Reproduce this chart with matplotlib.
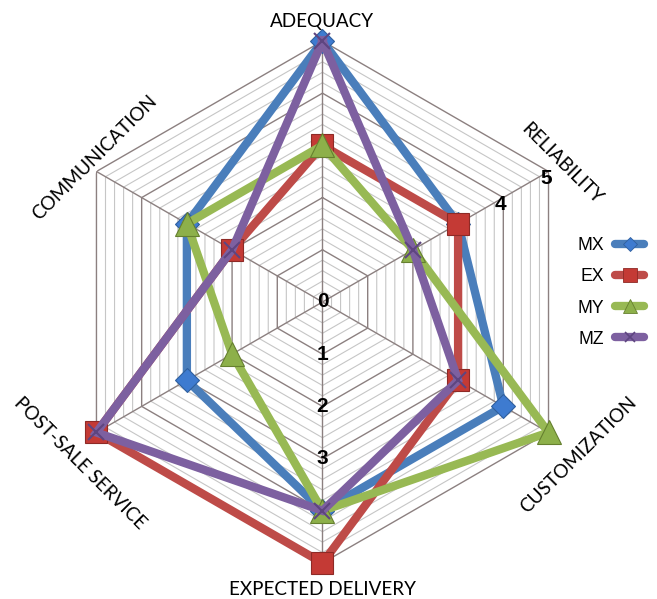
import numpy as np
import matplotlib
matplotlib.use("Agg")
import matplotlib.pyplot as plt

# Categories around the radar, clockwise from the top
categories = ['ADEQUACY', 'RELIABILITY', 'CUSTOMIZATION',
              'EXPECTED DELIVERY', 'POST-SALE SERVICE', 'COMMUNICATION']

# Scores per series (0-5)
mx = [5, 3, 4, 4, 3, 3]
ex = [3, 3, 3, 5, 5, 2]
my = [3, 2, 5, 4, 2, 3]
mz = [5, 2, 3, 4, 5, 2]

series_names = ['MX', 'EX', 'MY', 'MZ']
series_values = [mx, ex, my, mz]

tick_labels = ['0', '1', '2', '3', '4', '5']

# Style
line_colors = ['#4A7EBB', '#BE4B48', '#98B954', '#7D60A0']
face_colors = ['#3E7BD0', '#C43A35', '#8DB04A', '#7D60A0']
edge_colors = ['#2F5F9E', '#8E2A26', '#66802F', '#5E4580']
markers = ['D', 's', '^', 'x']
marker_sizes = [12, 16, 17, 11]
MAJOR = '#8C8080'
MINOR = '#C6C6C6'
RMAX = 5

n = len(categories)
theta = np.arange(n) * 2 * np.pi / n
theta_closed = np.append(theta, theta[0])

fig = plt.figure(figsize=(6.57, 5.99), dpi=100)
ax = fig.add_axes([0.0936, 0.0601, 0.7945, 0.8715], projection='polar')
ax.set_theta_offset(np.pi / 2)
ax.set_theta_direction(-1)
ax.set_ylim(0, RMAX)
ax.grid(False)
ax.set_xticks([])
ax.set_yticks([])
ax.spines['polar'].set_visible(False)
ax.patch.set_visible(False)

# hexagonal grid: minor rings every 0.2, major rings every 1
for r in np.round(np.arange(0.2, RMAX + 0.01, 0.2), 1):
    major = abs(r - round(r)) < 1e-6
    ax.plot(theta_closed, [r] * (n + 1),
            color=MAJOR if major else MINOR,
            lw=1.0 if major else 0.8, zorder=1 if major else 0.5)
for t in theta:
    ax.plot([t, t], [0, RMAX], color=MAJOR, lw=1.0, zorder=1)

# series: line plus markers, drawn in order so later ones sit on top
for i, (name, vals) in enumerate(zip(series_names, series_values)):
    v = np.append(vals, vals[0])
    ax.plot(theta_closed, v, color=line_colors[i], lw=6,
            solid_joinstyle='miter', zorder=2 + i * 2, clip_on=False)
    ax.plot(theta, vals, linestyle='none', marker=markers[i],
            ms=marker_sizes[i], mfc=face_colors[i], mec=edge_colors[i],
            mew=1.5 if markers[i] == 'x' else 0.8,
            zorder=3 + i * 2, clip_on=False)

# value labels: 0-3 down the lower spoke, 4-5 at the upper right spoke
lbl_font = dict(family='Liberation Sans', fontsize=15, fontweight='bold',
                ha='center', va='center', zorder=20)
for k in range(4):
    ax.text(theta[3] if k else 0, k, tick_labels[k], **lbl_font)
for k in (4, 5):
    ax.annotate(tick_labels[k], xy=(theta[1], k), xytext=(-2, -5),
                textcoords='offset points', **lbl_font)

# category labels
label_theta = [0, 59.9, 120.8, 180, 236.4, 302.3]
label_r = [5.38, 5.29, 5.71, 5.50, 5.59, 5.17]
label_rot = [0, -45, 45, 0, -45, 45]
for name, t, r, rot in zip(categories, label_theta, label_r, label_rot):
    ax.text(np.deg2rad(t), r, name, family='Lato', fontsize=13.6,
            rotation=rot, rotation_mode='anchor', ha='center', va='center')

# legend on the right, labels before the samples
handles = [plt.Line2D([], [], color=line_colors[i], lw=6,
                      solid_capstyle='round',
                      marker=markers[i], ms=marker_sizes[i] * 0.6,
                      mfc=face_colors[i], mec=edge_colors[i],
                      mew=1.2 if markers[i] == 'x' else 0.6)
           for i in range(len(series_names))]
fig.legend(handles, series_names, loc='center right',
           bbox_to_anchor=(0.994, 0.5117), frameon=False,
           markerfirst=False, handlelength=1.65, handletextpad=0.62,
           labelspacing=0.8, borderpad=0,
           prop=dict(family='Liberation Sans', size=12.7))

fig.savefig('out.png', dpi=100)
